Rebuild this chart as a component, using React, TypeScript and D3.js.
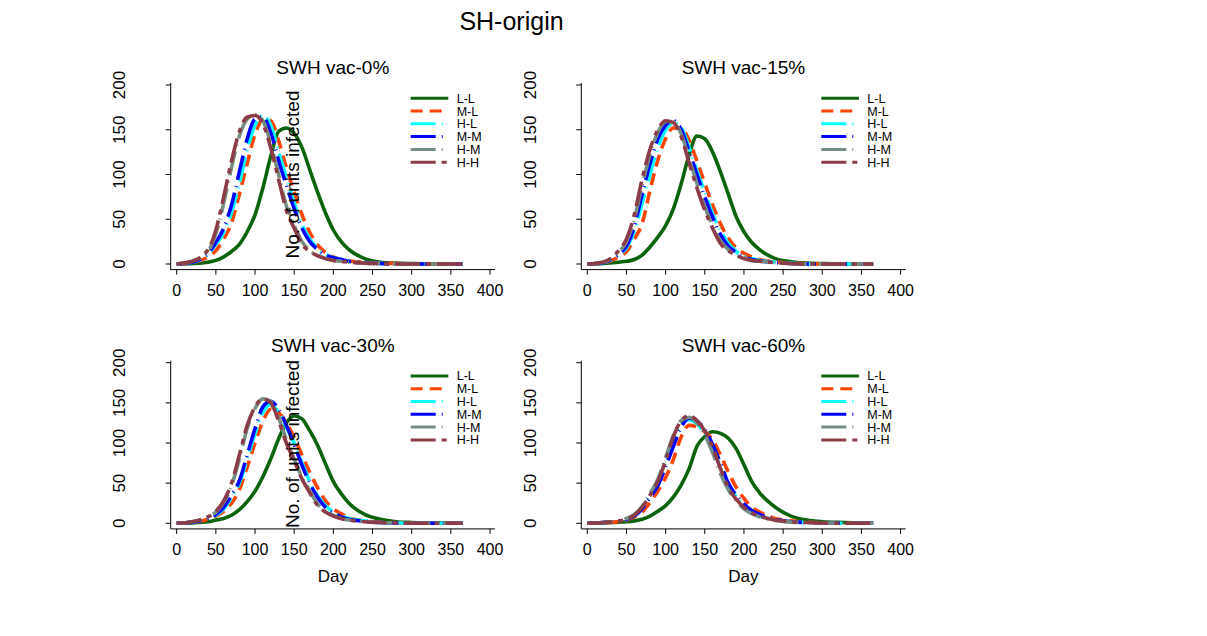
import React, { useEffect, useRef } from 'react';
import * as d3 from 'd3';

const DAYS = [0, 20, 40, 50, 60, 70, 80, 90, 100, 110, 120, 130, 140, 150, 160, 170, 180, 190, 200, 210, 220, 240, 260, 280, 300, 330, 365];

const SERIES = ['L-L', 'M-L', 'H-L', 'M-M', 'H-M', 'H-H'];
const COLORS = ['#0b640b', '#ff4500', '#00ffff', '#0000ff', '#748f82', '#8c3c46'];
const DASHES = ['none', '12,7', '25,6,1,6', '25,6,1,6', '25,6,1,6', '25,6,5,6'];

const PANEL_TITLES = ['SWH vac-0%', 'SWH vac-15%', 'SWH vac-30%', 'SWH vac-60%'];
const X_TICKS = [0, 50, 100, 150, 200, 250, 300, 350, 400];
const Y_TICKS = [0, 50, 100, 150, 200];

// vac-0%
const VAC0_LL = [0, 0.5, 2, 4, 8, 14, 22, 36, 55, 85, 120, 148, 152, 146, 130, 105, 80, 57, 38, 25, 16, 6, 2, 1, 0.5, 0, 0];
const VAC0_ML = [0, 1.5, 8, 15, 28, 46, 78, 112, 145, 161, 160, 138, 108, 80, 55, 35, 21, 13, 8, 5, 3.5, 2, 1, 0.5, 0, 0, 0];
const VAC0_HL = [0, 2, 11, 22, 35, 58, 90, 128, 155, 166, 155, 126, 96, 68, 44, 28, 17, 11, 7, 5, 3, 1.5, 0.5, 0, 0, 0, 0];
const VAC0_MM = [0, 2, 12, 24, 40, 66, 103, 140, 162, 164, 147, 116, 88, 62, 40, 25, 16, 10, 7, 5, 3, 1.5, 0.5, 0, 0, 0, 0];
const VAC0_HM = [0, 3, 14, 34, 68, 108, 143, 162, 167, 160, 135, 100, 65, 43, 25, 15, 10, 6, 4, 3, 2, 1, 0.5, 0, 0, 0, 0];
const VAC0_HH = [0, 3, 16, 38, 75, 115, 148, 164, 166, 157, 130, 95, 60, 40, 22, 14, 9, 6, 4, 3, 2, 1, 0.5, 0, 0, 0, 0];

// vac-15%
const VAC15_LL = [0, 0.5, 2, 3, 5, 10, 19, 30, 43, 62, 90, 122, 143, 140, 125, 103, 78, 53, 36, 24, 16, 6, 2.5, 1, 0.5, 0, 0];
const VAC15_ML = [0, 1, 8, 14, 28, 45, 82, 116, 140, 152, 152, 138, 115, 90, 66, 45, 29, 18, 12, 8, 5, 2.5, 1, 0.5, 0, 0, 0];
const VAC15_HL = [0, 1.5, 10, 18, 37, 68, 100, 130, 150, 158, 152, 130, 104, 80, 56, 37, 23, 14, 9, 6, 4, 2, 1, 0, 0, 0, 0];
const VAC15_MM = [0, 1.5, 11, 20, 42, 78, 112, 140, 155, 160, 150, 126, 100, 75, 52, 33, 20, 13, 8, 5, 3.5, 1.5, 0.5, 0, 0, 0, 0];
const VAC15_HM = [0, 2, 13, 25, 50, 88, 122, 147, 159, 159, 145, 118, 90, 64, 43, 26, 16, 10, 7, 4, 3, 1.5, 0.5, 0, 0, 0, 0];
const VAC15_HH = [0, 2, 15, 28, 55, 95, 128, 150, 160, 158, 142, 113, 85, 60, 40, 23, 15, 10, 6, 4, 3, 1.5, 0.5, 0, 0, 0, 0];

// vac-30%
const VAC30_LL = [0, 0.5, 2, 4, 6, 10, 17, 27, 40, 58, 80, 105, 125, 134, 130, 115, 97, 74, 52, 37, 25, 11, 5, 2, 1, 0.5, 0];
const VAC30_ML = [0, 1, 5, 9, 15, 25, 42, 70, 100, 127, 142, 138, 125, 107, 85, 63, 44, 28, 18, 12, 7, 3, 1.5, 0.5, 0, 0, 0];
const VAC30_HL = [0, 1.5, 6, 10, 18, 32, 50, 80, 112, 138, 148, 138, 120, 100, 75, 52, 34, 22, 14, 9, 6, 3, 1, 0.5, 0, 0, 0];
const VAC30_MM = [0, 1.5, 6, 11, 20, 35, 53, 85, 118, 145, 152, 142, 122, 98, 72, 50, 32, 20, 13, 8, 5, 2.5, 1, 0.5, 0, 0, 0];
const VAC30_HM = [0, 2, 8, 14, 26, 47, 80, 118, 143, 155, 152, 132, 104, 80, 57, 40, 24, 15, 10, 6, 4, 2, 1, 0.5, 0, 0, 0];
const VAC30_HH = [0, 2, 8, 15, 28, 50, 85, 122, 145, 155, 150, 128, 100, 78, 55, 38, 22, 14, 9, 6, 4, 2, 1, 0.5, 0, 0, 0];

// vac-60%
const VAC60_LL = [0, 0.5, 1.5, 2, 3, 5, 9, 15, 22, 33, 48, 68, 96, 108, 114, 112, 106, 93, 73, 52, 38, 20, 9, 4, 2, 1, 0];
const VAC60_ML = [0, 0.5, 2, 4, 8, 14, 26, 40, 57, 80, 108, 122, 120, 114, 104, 85, 64, 45, 31, 20, 14, 6, 3, 1.5, 0.5, 0, 0];
const VAC60_HL = [0, 1, 3, 5, 10, 19, 34, 50, 74, 100, 123, 129, 124, 112, 94, 70, 48, 33, 22, 15, 10, 4.5, 2, 1, 0.5, 0, 0];
const VAC60_MM = [0, 1, 2.5, 5, 9, 18, 32, 47, 70, 96, 120, 131, 127, 117, 98, 75, 50, 35, 24, 16, 11, 5, 2, 1, 0.5, 0, 0];
const VAC60_HM = [0, 1, 3, 6, 11, 21, 37, 55, 82, 110, 128, 132, 125, 110, 88, 62, 42, 28, 18, 12, 8, 3.5, 1.5, 1, 0.5, 0, 0];
const VAC60_HH = [0, 1, 3, 5, 10, 20, 35, 52, 78, 108, 128, 134, 128, 115, 95, 68, 45, 30, 20, 13, 9, 4, 2, 1, 0.5, 0, 0];

const PANEL_DATA = [
  [VAC0_LL, VAC0_ML, VAC0_HL, VAC0_MM, VAC0_HM, VAC0_HH],
  [VAC15_LL, VAC15_ML, VAC15_HL, VAC15_MM, VAC15_HM, VAC15_HH],
  [VAC30_LL, VAC30_ML, VAC30_HL, VAC30_MM, VAC30_HM, VAC30_HH],
  [VAC60_LL, VAC60_ML, VAC60_HL, VAC60_MM, VAC60_HM, VAC60_HH],
];

const W = 1207;
const H = 636;
const FONT = '"Liberation Sans", Arial, sans-serif';
const COL_DX = 410.6;

export default function App() {
  const svgRef = useRef(null);

  useEffect(() => {
    const svg = d3.select(svgRef.current);
    svg.selectAll('*').remove();

    svg.append('rect').attr('width', W).attr('height', H).attr('fill', '#fff');

    svg.append('text')
      .attr('x', 511.5)
      .attr('y', 30)
      .attr('text-anchor', 'middle')
      .style('font-family', FONT)
      .style('font-size', '25px')
      .text('SH-origin');

    PANEL_DATA.forEach((series, p) => {
      const col = p % 2;
      const row = Math.floor(p / 2);
      const dx = col * COL_DX;

      const x = d3.scaleLinear().domain([0, 400]).range([176.7 + dx, 490 + dx]);
      const y = row === 0
        ? d3.scaleLinear().domain([0, 200]).range([264, 85])
        : d3.scaleLinear().domain([0, 200]).range([523.3, 362.7]);

      const axisX = x(0) - 6;
      const axisY = y(0) + 5.6;
      const g = svg.append('g');

      // curves
      const line = d3.line<number>()
        .x((d, i) => x(DAYS[i]))
        .y(d => y(d))
        .curve(d3.curveMonotoneX);

      series.forEach((vals, s) => {
        g.append('path')
          .attr('d', line(vals))
          .attr('fill', 'none')
          .attr('stroke', COLORS[s])
          .attr('stroke-width', 3.6)
          .attr('stroke-dasharray', DASHES[s]);
      });

      // axes
      g.append('line')
        .attr('x1', axisX).attr('x2', axisX)
        .attr('y1', y(200) - 2).attr('y2', axisY)
        .attr('stroke', '#000').attr('stroke-width', 1);
      g.append('line')
        .attr('x1', axisX).attr('x2', x(400) + 5)
        .attr('y1', axisY).attr('y2', axisY)
        .attr('stroke', '#000').attr('stroke-width', 1);

      Y_TICKS.forEach(t => {
        g.append('line')
          .attr('x1', axisX - 5).attr('x2', axisX)
          .attr('y1', y(t)).attr('y2', y(t))
          .attr('stroke', '#000');
        g.append('text')
          .attr('transform', `translate(${125 + dx},${y(t)}) rotate(-90)`)
          .attr('text-anchor', 'middle')
          .style('font-family', FONT)
          .style('font-size', '17px')
          .text(t);
      });

      X_TICKS.forEach(t => {
        g.append('line')
          .attr('x1', x(t)).attr('x2', x(t))
          .attr('y1', axisY).attr('y2', axisY + 5)
          .attr('stroke', '#000');
        g.append('text')
          .attr('x', x(t))
          .attr('y', axisY + 26)
          .attr('text-anchor', 'middle')
          .style('font-family', FONT)
          .style('font-size', '16px')
          .text(t);
      });

      // subtitle
      g.append('text')
        .attr('x', (axisX + x(400) + 5) / 2)
        .attr('y', y(200) - 11)
        .attr('text-anchor', 'middle')
        .style('font-family', FONT)
        .style('font-size', '19px')
        .text(PANEL_TITLES[p]);

      if (row === 1) {
        g.append('text')
          .attr('x', (axisX + x(400) + 5) / 2)
          .attr('y', 582)
          .attr('text-anchor', 'middle')
          .style('font-family', FONT)
          .style('font-size', '17px')
          .text('Day');
      }

      // legend
      SERIES.forEach((name, s) => {
        const ly = y(200) + 13.2 + s * 12.8;
        g.append('line')
          .attr('x1', 410.7 + dx).attr('x2', 448.3 + dx)
          .attr('y1', ly).attr('y2', ly)
          .attr('stroke', COLORS[s])
          .attr('stroke-width', 3)
          .attr('stroke-dasharray', DASHES[s]);
        g.append('text')
          .attr('x', 456.7 + dx)
          .attr('y', ly + 4.5)
          .style('font-family', FONT)
          .style('font-size', '12.5px')
          .text(name);
      });

      // misplaced y title on the left column
      if (col === 0) {
        g.append('text')
          .attr('transform', `translate(299,${row === 0 ? 174.5 : 444}) rotate(-90)`)
          .attr('text-anchor', 'middle')
          .style('font-family', FONT)
          .style('font-size', '19px')
          .text('No. of units infected');
      }
    });
  }, []);

  return (
    <svg ref={svgRef} width={W} height={H} style={{ position: 'absolute', left: 0, top: 0 }} />
  );
}
